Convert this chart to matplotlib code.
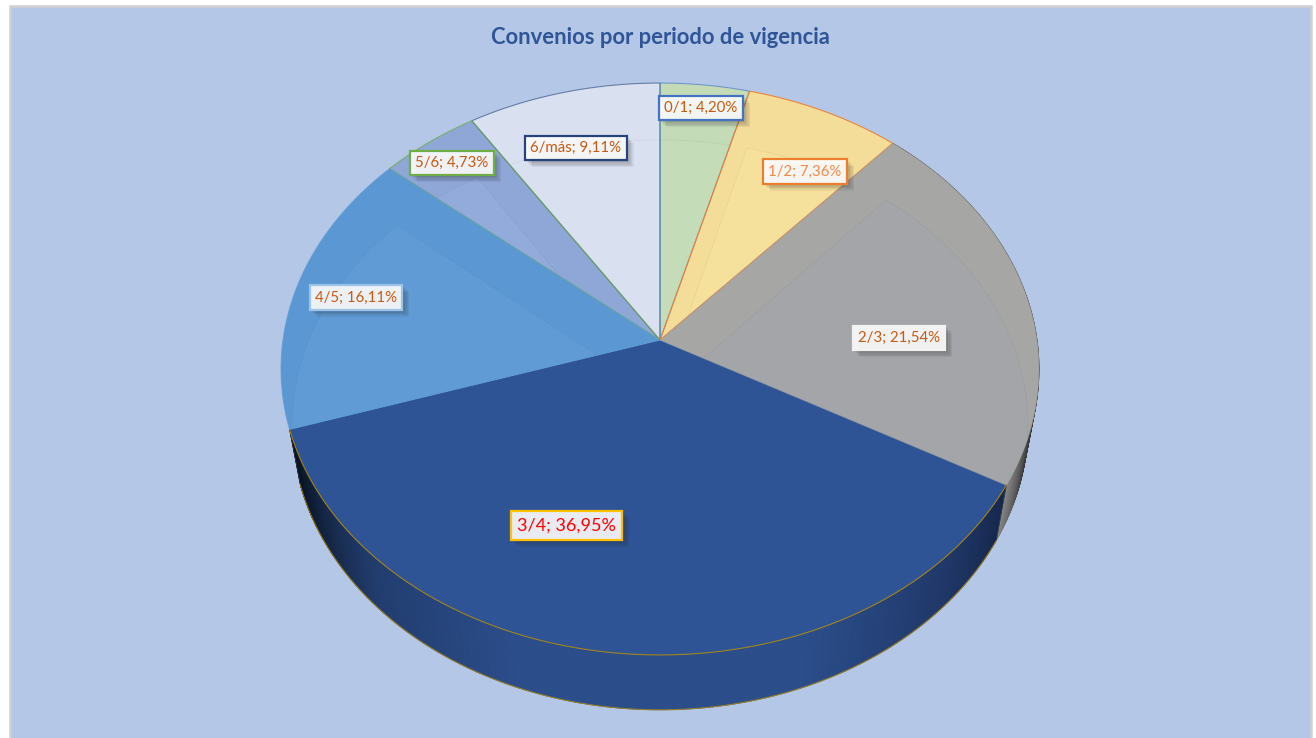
import numpy as np
import matplotlib
matplotlib.use("Agg")
import matplotlib.pyplot as plt
import matplotlib.patheffects as pe
from matplotlib.collections import PolyCollection
from matplotlib.colors import to_rgb, to_rgba
from matplotlib.patches import Polygon, Rectangle

# data
categories = ['0/1', '1/2', '2/3', '3/4', '4/5', '5/6', '6/más']
values = [4.20, 7.36, 21.54, 36.95, 16.11, 4.73, 9.11]

# colours per slice
face_colors = ['#c5dcb9', '#f6e19c', '#a4a5a8', '#2e5496', '#609bd5', '#92abdb', '#d9e0f0']
wall_colors = ['#c3dbb6', '#f4dd98', '#a6a6a4', '#2e5496', '#5b98d3', '#8ea7d7', '#d9e0f0']
edge_colors = ['#4472c4', '#ed7d31', '#a5a5a5', '#bf9000', '#5b9bd5', '#70ad47', '#264478']
edge_alphas = [0.6, 0.9, 0.6, 0.8, 0.7, 0.75, 0.6]
label_edges = ['#4472c4', '#ed7d31', '#f2f2f2', '#ffc000', '#9dc3e6', '#70ad47', '#264478']
text_colors = ['#c55a11', '#f08a4b', '#c55a11', '#ff0000', '#c55a11', '#c55a11', '#c55a11']
label_pos = [(701, 108), (805, 171.5), (899, 338), (566.5, 525.5), (356, 297.5), (452, 163), (576, 148)]
edge_order = [6, 5, 4, 0, 1, 2, 3]

# pie geometry in pixels (perspective disc)
CX = 660
TOP_Y, TOP_A, TOP_B = 340, 377, 283
LOW_Y, LOW_A, LOW_B = 396, 366, 282
K = 0.1014


def rim(theta, apex_y, a, b):
    # theta in degrees, clockwise from the top
    t = np.radians(theta)
    w = 1 + K * np.cos(t)
    return np.column_stack([CX + a * np.sin(t) / w, apex_y - b * np.cos(t) / w])


def sector(t0, t1, apex_y, a, b):
    arc = rim(np.linspace(t0, t1, 200), apex_y, a, b)
    return np.vstack([[CX, apex_y], arc])


def wall(ax, t0, t1, stops, colors):
    # side of the disc, shaded along the angle
    th = np.linspace(t0, t1, 240)
    up = rim(th, TOP_Y, TOP_A, TOP_B)
    lo = rim(th, LOW_Y, LOW_A, LOW_B)
    rgb = np.array([to_rgb(c) for c in colors])
    quads, cols = [], []
    for i in range(len(th) - 1):
        quads.append([up[i], up[i + 1], lo[i + 1], lo[i]])
        m = (th[i] + th[i + 1]) / 2
        cols.append([np.interp(m, stops, rgb[:, j]) for j in range(3)])
    ax.add_collection(PolyCollection(quads, facecolors=cols, edgecolors=cols, linewidths=0.6))


fig = plt.figure(figsize=(13.16, 7.38), dpi=100)
ax = fig.add_axes([0, 0, 1, 1])
ax.set_xlim(0, 1316)
ax.set_ylim(738, 0)
ax.axis('off')

ax.add_patch(Rectangle((10, 6), 1301, 740, facecolor='#b4c7e7', edgecolor='#d0d0d0', linewidth=1.8))

ax.text(660, 38, 'Convenios por periodo de vigencia', ha='center', va='center',
        fontsize=15.8, fontweight='bold', color='#2f5597', family='Lato')

bounds = np.concatenate([[0], np.cumsum(values)]) * 3.6

# side walls
wall(ax, bounds[2], bounds[3], [bounds[2], 100, 108, bounds[3]],
     ['#2a2a2a', '#2a2a2a', '#3c3c3c', '#858585'])
wall(ax, bounds[3], bounds[4], [bounds[3], 135, 160, 200, 225, 240, bounds[4]],
     ['#14264a', '#1f3768', '#2b4d8a', '#2b4d8a', '#213c6e', '#12233f', '#071220'])
for t in [bounds[3], bounds[4]]:
    pts = np.vstack([rim(t, TOP_Y, TOP_A, TOP_B), rim(t, LOW_Y, LOW_A, LOW_B)])
    ax.plot(pts[:, 0], pts[:, 1], color='#555555', lw=0.5, alpha=0.6)
low_arc = rim(np.linspace(bounds[3], bounds[4], 300), LOW_Y, LOW_A, LOW_B)
ax.plot(low_arc[:, 0], low_arc[:, 1], color='#bf9000', lw=0.8, alpha=0.7)

# top faces, with the floor of the disc showing through
for i in range(len(values)):
    top = Polygon(sector(bounds[i], bounds[i + 1], TOP_Y, TOP_A, TOP_B),
                  closed=True, facecolor=wall_colors[i], edgecolor='none')
    ax.add_patch(top)
    floor = Polygon(sector(bounds[i], bounds[i + 1], LOW_Y, LOW_A, LOW_B), closed=True,
                    facecolor=face_colors[i], edgecolor=to_rgba('#555555', 0.07), linewidth=0.6)
    ax.add_patch(floor)
    floor.set_clip_path(top)

for i in edge_order:
    arc = sector(bounds[i], bounds[i + 1], TOP_Y, TOP_A, TOP_B)
    if categories[i] == '3/4':
        ax.plot(arc[1:, 0], arc[1:, 1], color=edge_colors[i], lw=0.8, alpha=edge_alphas[i])
    else:
        ax.add_patch(Polygon(arc, closed=True, facecolor='none',
                             edgecolor=to_rgba(edge_colors[i], edge_alphas[i]), linewidth=0.8))

# data labels
shadow = [pe.SimplePatchShadow(offset=(d, -d), shadow_rgbFace='#222222', alpha=0.07) for d in (1, 2, 3, 4, 5)]
for i, cat in enumerate(categories):
    big = cat == '3/4'
    txt = f"{cat}; {values[i]:.2f}%".replace('.', ',')
    t = ax.text(label_pos[i][0], label_pos[i][1], txt, ha='center', va='center',
                fontsize=13 if big else 10.8, color=text_colors[i], family='Lato',
                zorder=5,
                bbox=dict(boxstyle='square,pad=0.36', facecolor=to_rgba('#ffffff', 0.9),
                          edgecolor=label_edges[i], linewidth=1.6))
    t.get_bbox_patch().set_path_effects(shadow + [pe.Normal()])

fig.savefig('out.png', dpi=100, facecolor='white')
